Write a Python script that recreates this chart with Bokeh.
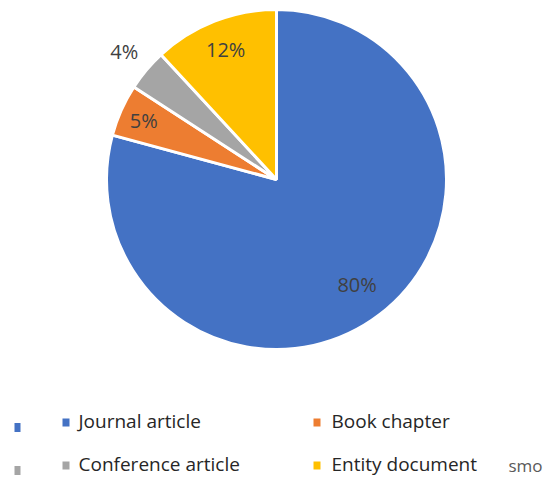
import numpy as np
from bokeh.plotting import figure
from bokeh.models import Range1d
from bokeh.core.properties import value
from bokeh.embed import file_html
from bokeh.resources import INLINE

# ---- data ----
categories = ["Journal article", "Book chapter", "Conference article", "Entity document"]
values = [80, 5, 4, 12]
labels = ["80%", "5%", "4%", "12%"]
colors = ["#4472C4", "#ED7D31", "#A5A5A5", "#FFC000"]
label_radius = [0.78, 0.855, 1.17, 0.82]
extra_text = "smo"

# ---- layout ----
W, H = 553, 478
FONT = "Open Sans"
p = figure(width=W, height=H, x_range=Range1d(0, W), y_range=Range1d(0, H),
           output_backend="svg", toolbar_location=None, min_border=0)
p.axis.visible = False
p.grid.visible = False
p.outline_line_color = None
p.background_fill_color = "white"
p.border_fill_color = "white"

cx, cy, R = 276, H - 179, 170
frac = np.array(values, dtype=float) / sum(values)
cum = np.concatenate([[0.0], np.cumsum(frac)])
start = np.pi / 2 - 2 * np.pi * cum[1:]
end = np.pi / 2 - 2 * np.pi * cum[:-1]

p.wedge(x=cx, y=cy, radius=R, start_angle=start, end_angle=end,
        fill_color=colors, line_color="white", line_width=3)

mid = (start + end) / 2
lx = cx + R * np.array(label_radius) * np.cos(mid)
ly = cy + R * np.array(label_radius) * np.sin(mid)
p.text(x=lx, y=ly, text=labels, text_align="center", text_baseline="middle",
       text_font=value(FONT), text_font_size="20px", text_color="#404040")

# ---- legend (manual, 2x2 grid) ----
col_sq = [65.5, 316.5]
col_tx = [78, 331]
row_y = [420, 463]
sq_x, sq_y, tx_x, tx_y = [], [], [], []
for i in range(len(categories)):
    r, c = divmod(i, 2)
    sq_x.append(col_sq[c]); sq_y.append(H - row_y[r] - 2)
    tx_x.append(col_tx[c]); tx_y.append(H - row_y[r])
p.rect(x=sq_x, y=sq_y, width=7, height=8, fill_color=colors, line_color=None)
p.text(x=tx_x, y=tx_y, text=categories, text_align="left", text_baseline="middle",
       text_font=value(FONT), text_font_size="19px", text_color="#262626")

# stray markers at far left
p.rect(x=[17, 17], y=[H - 427, H - 470], width=6, height=9,
       fill_color=[colors[0], colors[2]], line_color=None)

p.text(x=[508], y=[H - 465], text=[extra_text], text_align="left", text_baseline="middle",
       text_font=value(FONT), text_font_size="17px", text_color="#595959")

open("out.html", "w").write(file_html(p, INLINE))
